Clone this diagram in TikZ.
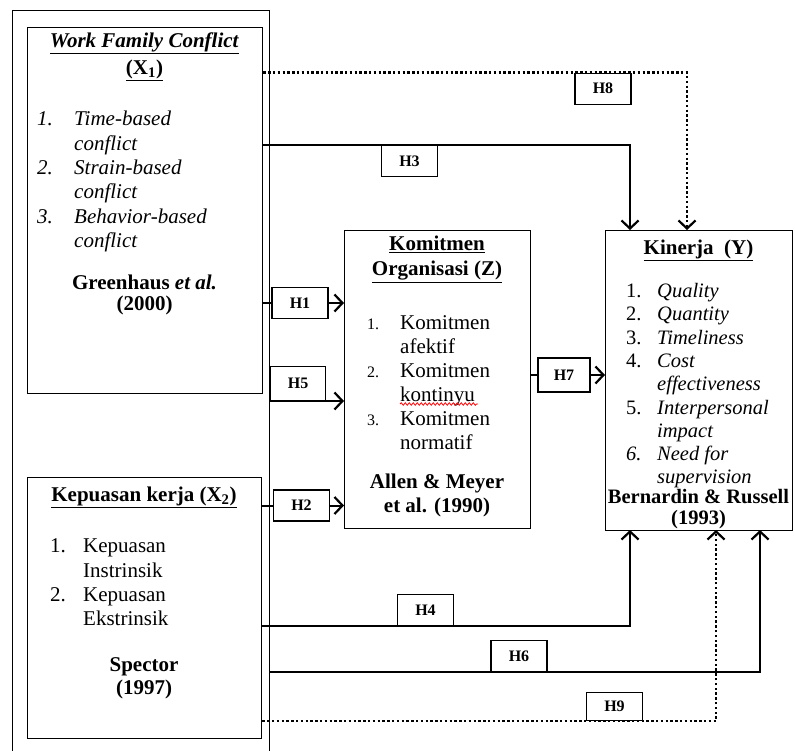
\documentclass[tikz,border=0pt]{standalone}
\usepackage{fontspec}
\setmainfont{Liberation Serif}
\usetikzlibrary{arrows.meta,decorations.pathmorphing}

\newcommand{\hdr}[1]{\textbf{\underline{#1}}}

\tikzset{
  varbox/.style={draw, line width=1.3pt, anchor=north west, inner sep=0pt},
  hlabel/.style={draw, fill=white, line width=1.2pt, minimum width=56pt,
    minimum height=31pt, inner sep=0pt, font=\fontsize{16}{18}\selectfont\bfseries},
  txt/.style={inner sep=0pt, align=center, font=\fontsize{21}{24}\selectfont},
  lst/.style={inner sep=0pt, anchor=north west, font=\fontsize{21}{24}\selectfont},
  link/.style={line width=2pt},
  main link/.style={line width=2.7pt},
  dot link/.style={line width=2.8pt, dash pattern=on 2.4pt off 2.4pt},
  tip/.style={-{Straight Barb[length=8pt,width=17pt,line width=2.2pt]}},
  spellwave/.style={red, line width=0.8pt, decorate,
    decoration={snake, amplitude=1.2pt, segment length=4pt}}
}

\begin{document}
\begin{tikzpicture}[x=1pt, y=-1pt]
 \useasboundingbox (0,0) rectangle (795,751);

 % boxes
 \node[varbox, minimum width=257pt, minimum height=760pt] (frame) at (12,10) {};
 \node[varbox, minimum width=235pt, minimum height=366pt] (x1) at (27,27) {};
 \node[varbox, minimum width=234pt, minimum height=261pt] (x2) at (27,477) {};
 \node[varbox, minimum width=186pt, minimum height=298pt] (z) at (344,230) {};
 \node[varbox, minimum width=187pt, minimum height=300pt] (y) at (605,230) {};

 % X1
 \node[txt, font=\fontsize{21}{27}\selectfont] (x1t) at (144.5,56.5)
   {\hdr{\textit{Work Family Conflict}}\\ \hdr{(X\textsubscript{1})}};
 \node[lst, font=\fontsize{21}{24.4}\selectfont\itshape] (x1l) at (37,108.5)
   {\begin{tabular}{@{}p{37pt}@{}l@{}}
    1. & Time-based\\ & conflict\\
    2. & Strain-based\\ & conflict\\
    3. & Behavior-based\\ & conflict
   \end{tabular}};
 \node[txt, font=\fontsize{21}{21}\selectfont\bfseries] (x1c) at (144.5,295)
   {Greenhaus \textit{et al.}\\(2000)};

 % X2
 \node[txt] (x2t) at (144,497) {\hdr{Kepuasan kerja (X\textsubscript{2})}};
 \node[lst, font=\fontsize{21}{24.3}\selectfont] (x2l) at (50,535.5)
   {\begin{tabular}{@{}p{33pt}@{}l@{}}
    1. & Kepuasan\\ & Instrinsik\\
    2. & Kepuasan\\ & Ekstrinsik
   \end{tabular}};
 \node[txt, font=\fontsize{21}{23}\selectfont\bfseries] (x2c) at (144,678.5)
   {Spector\\(1997)};

 % Z
 \node[txt, font=\fontsize{21}{25}\selectfont] (zt) at (437,259.5)
   {\hdr{Komitmen}\\ \hdr{Organisasi (Z)}};
 \node[lst] (zl) at (367,312.5)
   {\begin{tabular}{@{}p{33pt}@{}l@{}}
    {\fontsize{16}{16}\selectfont 1.} & Komitmen\\ & afektif\\
    {\fontsize{16}{16}\selectfont 2.} & Komitmen\\ & kontinyu\\
    {\fontsize{16}{16}\selectfont 3.} & Komitmen\\ & normatif
   \end{tabular}};
 \draw[spellwave] (400,404) -- (478,404);
 \node[txt, font=\fontsize{21}{24}\selectfont\bfseries] (zc) at (437,495)
   {Allen \& Meyer\\et al. (1990)};

 % Y
 \node[txt] (yt) at (698.5,250) {\hdr{Kinerja~~(Y)}};
 \node[lst, font=\fontsize{20.5}{23.3}\selectfont] (yl) at (626,281)
   {\begin{tabular}{@{}p{31pt}@{}l@{}}
    1. & \textit{Quality}\\
    2. & \textit{Quantity}\\
    3. & \textit{Timeliness}\\
    4. & \textit{Cost}\\ & \textit{effectiveness}\\
    5. & \textit{Interpersonal}\\ & \textit{impact}\\
    \textit{6.} & \textit{Need for}\\ & \textit{supervision}
   \end{tabular}};
 \node[txt, font=\fontsize{20.5}{21}\selectfont\bfseries] (yc) at (698.5,509.5)
   {Bernardin \& Russell\\(1993)};

 % hypothesis labels
 \node[hlabel, anchor=north] (h8) at (603,72.6) {H8};
 \node[hlabel, anchor=north] (h3) at (409.5,145) {H3};
 \node[hlabel] (h1) at (300,303) {H1};
 \node[hlabel, anchor=south west, minimum width=55pt, minimum height=34pt] (h5) at (270,401) {H5};
 \node[hlabel] (h2) at (301.5,505.5) {H2};
 \node[hlabel, minimum width=52pt, minimum height=34pt] (h7) at (564,375) {H7};
 \node[hlabel, anchor=south] (h4) at (425.5,626) {H4};
 \node[hlabel, anchor=south] (h6) at (519,672) {H6};
 \node[hlabel, anchor=south, minimum height=28pt] (h9) at (614.5,721) {H9};

 \coordinate (y3) at (630,230);
 \coordinate (y8) at (687,230);
 \coordinate (y4) at (630,530);
 \coordinate (y9) at (716,530);
 \coordinate (y6) at (760,530);

 % connectors
 \draw[main link, tip] (x1.east |- h3.north) -| (y3);
 \draw[dot link, tip] (x1.east |- h8.north) -| (y8);
 \draw[link] (x1.east |- h1.west) -- (h1.west);
 \draw[link, tip] (h1.east) -- (z.west |- h1.east);
 \draw[link, tip] (h5.south west) -- (z.west |- h5.south);
 \draw[link] (x2.east |- h2.west) -- (h2.west);
 \draw[link, tip] (h2.east) -- (z.west |- h2.east);
 \draw[link] (z.east |- h7.west) -- (h7.west);
 \draw[link, tip] (h7.east) -- (y.west |- h7.east);
 \draw[main link, tip] (x2.east |- h4.south) -| (y4);
 \draw[main link, tip] (frame.east |- h6.south) -| (y6);
 \draw[dot link, tip] (x2.east |- h9.south) -| (y9);
\end{tikzpicture}
\end{document}
